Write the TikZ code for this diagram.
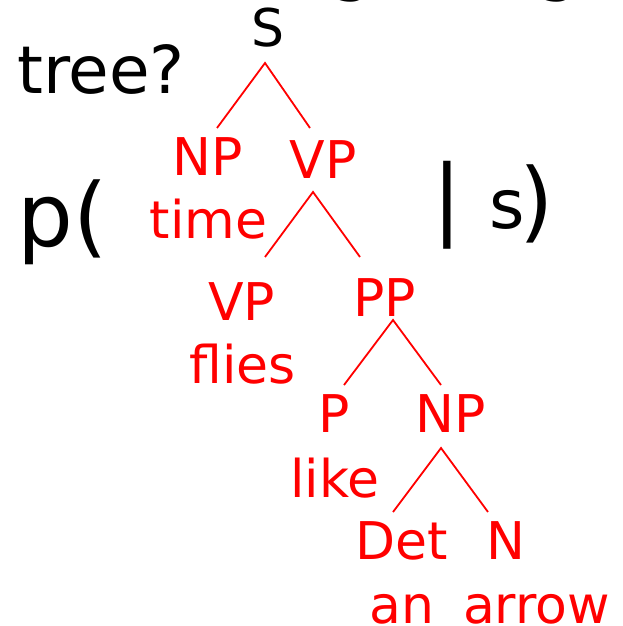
\documentclass[tikz,border=0pt]{standalone}
\usepackage{fontspec}
\setmainfont{DejaVu Sans}
\begin{document}
\begin{tikzpicture}[x=1pt,y=-1pt,
  lbl/.style={inner sep=0pt,anchor=base,text=red,font=\fontsize{52}{60}\selectfont},
  blk/.style={inner sep=0pt,anchor=base,text=black},
  edge/.style={draw=red,line width=1.8pt}]
\useasboundingbox (0,0) rectangle (622,626);

% heading line above the frame (only its descenders fall inside)
\node[blk,font=\fontsize{66}{70}\selectfont] (g1) at (352,-11.7) {g};
\node[blk,font=\fontsize{66}{70}\selectfont] (g2) at (558,-11.7) {g};

% black formula text
\node[blk,anchor=base west,font=\fontsize{66}{70}\selectfont] (tree) at (17,93) {tree?};
\node[blk,font=\fontsize{52}{60}\selectfont] (S) at (268,47) {S};
\node[blk,anchor=base west,font=\fontsize{88}{90}\selectfont] (popen) at (17,246) {p(};
\node[blk,font=\fontsize{88}{90}\selectfont] (bar) at (447.5,228) {|};
\node[blk,font=\fontsize{68}{70}\selectfont] (sent) at (507.5,228) {s};
\node[blk,font=\fontsize{88}{90}\selectfont] (pclose) at (536.5,231) {)};

% tree labels
\node[lbl] (NP1) at (208,175) {NP};
\node[lbl] (time) at (208.5,238) {time};
\node[lbl] (VP1) at (323,178) {VP};
\node[lbl] (VP2) at (241.5,320) {VP};
\node[lbl] (flies) at (242.5,383) {flies};
\node[lbl] (PP) at (384.5,316) {PP};
\node[lbl] (P) at (334,432) {P};
\node[lbl] (NP2) at (451,432) {NP};
\node[lbl] (like) at (335,497) {like};
\node[lbl] (Det) at (402,559) {Det};
\node[lbl] (N) at (506,559) {N};
\node[lbl] (an) at (402,623) {an};
\node[lbl] (arrow) at (536.5,623) {arrow};

% fork points under each parent and feet above each child
\coordinate (S-fork) at (265,63);
\coordinate (NP1-top) at (217,128);
\coordinate (VP1-top) at (310,128);
\coordinate (VP1-fork) at (313,192);
\coordinate (VP2-top) at (265,257);
\coordinate (PP-top) at (360,257);
\coordinate (PP-fork) at (393,320);
\coordinate (P-top) at (344,385);
\coordinate (NP2-top) at (441,385);
\coordinate (NP2-fork) at (441,448);
\coordinate (Det-top) at (393,512);
\coordinate (N-top) at (488,512);

\draw[edge] (NP1-top) -- (S-fork) -- (VP1-top);
\draw[edge] (VP2-top) -- (VP1-fork) -- (PP-top);
\draw[edge] (P-top) -- (PP-fork) -- (NP2-top);
\draw[edge] (Det-top) -- (NP2-fork) -- (N-top);
\end{tikzpicture}
\end{document}
